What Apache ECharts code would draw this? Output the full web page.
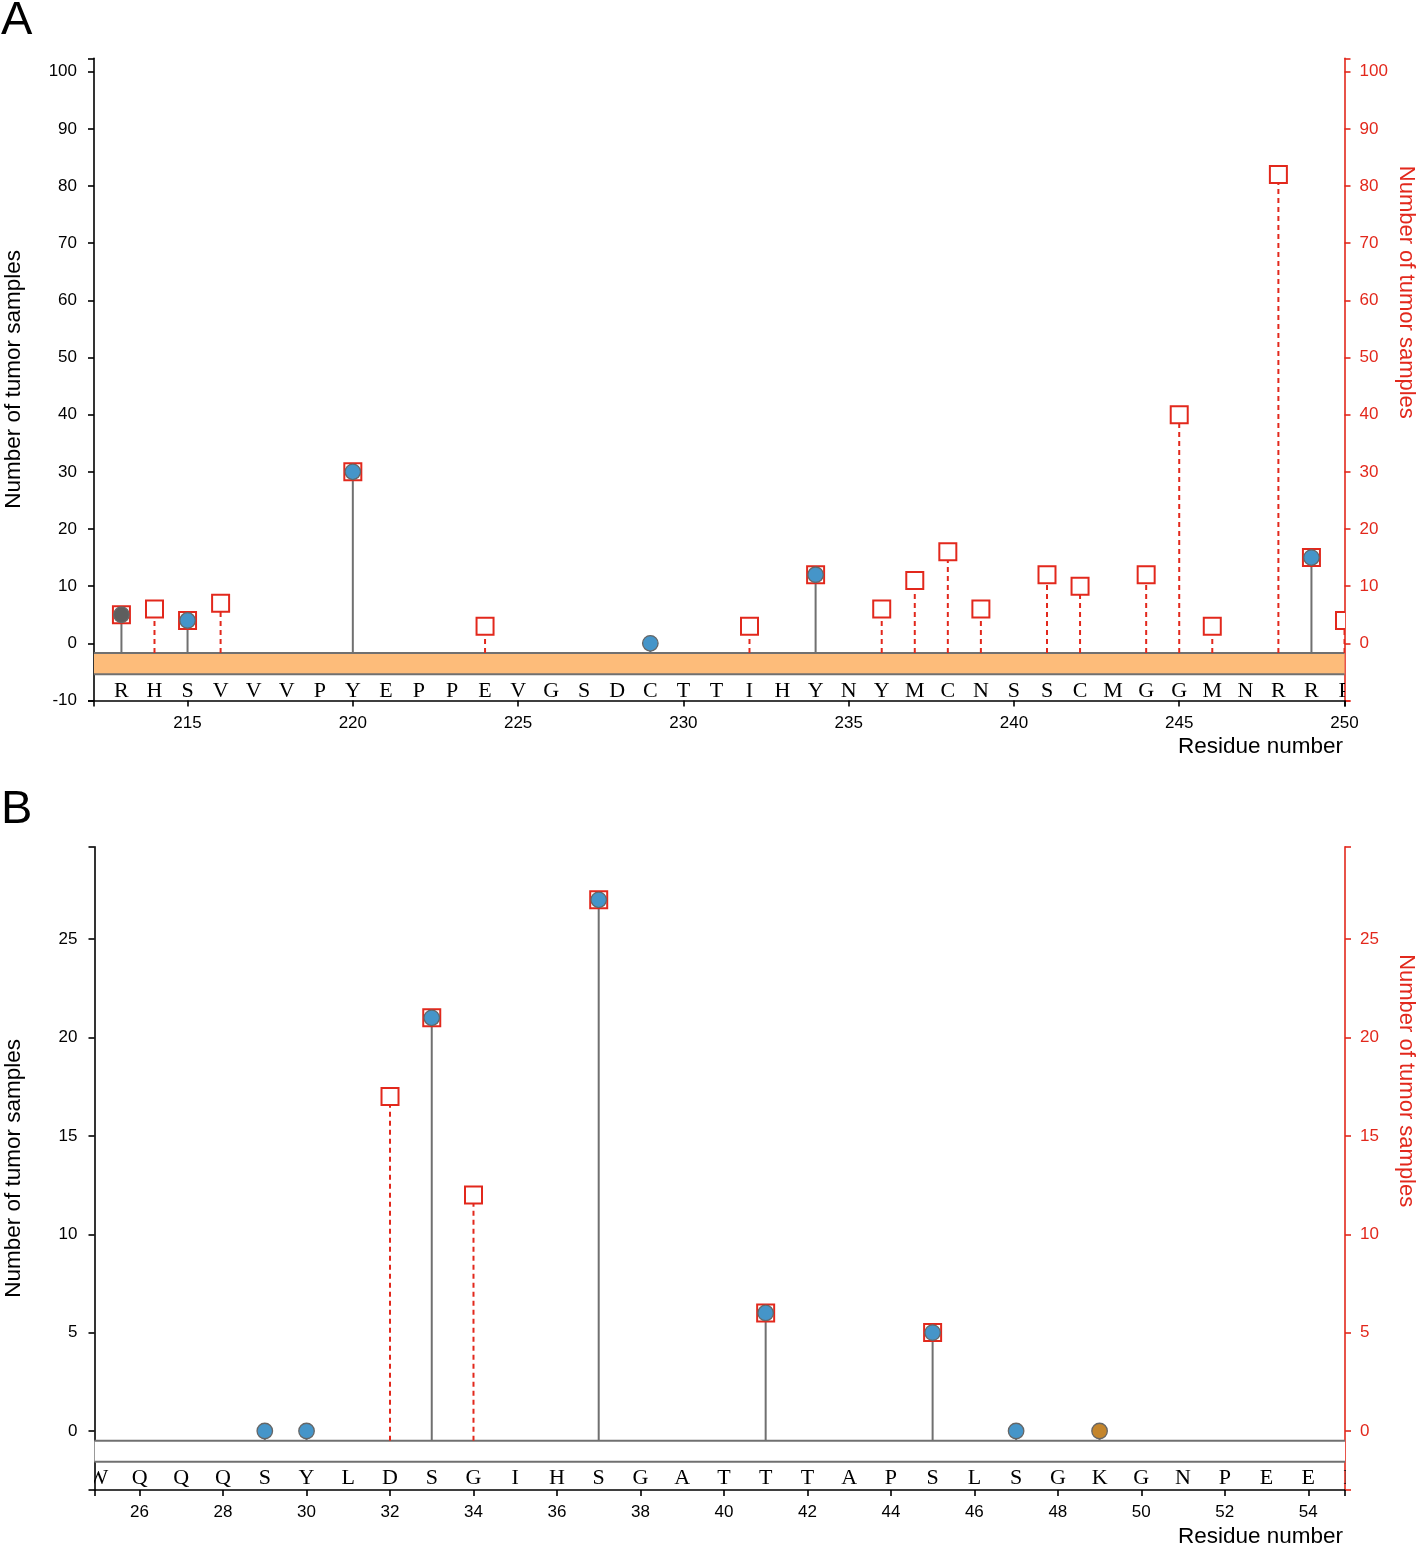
<!DOCTYPE html>
<html><head><meta charset="utf-8">
<script src="https://cdn.jsdelivr.net/npm/echarts@6/dist/echarts.min.js"></script>
<style>html,body{margin:0;padding:0;background:#fff}#c{width:1418px;height:1545px}</style>
</head><body><div id="c"></div>
<script>
// ---------- Panel A data ----------
const seqStartA = 213;
const seqA = ['R','H','S','V','V','V','P','Y','E','P','P','E','V','G','S','D','C','T','T','I','H','Y','N','Y','M','C','N','S','S','C','M','G','G','M','N','R','R','P'];
const circleResA = [213, 215, 220, 229, 234, 249];
const circleValA = [5, 4, 30, 0, 12, 15];
const circleTypeA = ['gray', 'blue', 'blue', 'blue', 'blue', 'blue'];
const squareResA = [213, 214, 215, 216, 220, 224, 232, 234, 236, 237, 238, 239, 241, 242, 244, 245, 246, 248, 249, 250];
const squareValA = [5, 6, 4, 7, 30, 3, 3, 12, 6, 11, 16, 6, 12, 10, 12, 40, 3, 82, 15, 4];
const xTicksA = [215, 220, 225, 230, 235, 240, 245, 250];
const yTicksA = [-10, 0, 10, 20, 30, 40, 50, 60, 70, 80, 90, 100];

// ---------- Panel B data ----------
const seqStartB = 25;
const seqB = ['W','Q','Q','Q','S','Y','L','D','S','G','I','H','S','G','A','T','T','T','A','P','S','L','S','G','K','G','N','P','E','E','L'];
const circleResB = [29, 30, 33, 37, 41, 45, 47, 49];
const circleValB = [0, 0, 21, 27, 6, 5, 0, 0];
const circleTypeB = ['blue', 'blue', 'blue', 'blue', 'blue', 'blue', 'blue', 'orange'];
const squareResB = [32, 33, 34, 37, 41, 45];
const squareValB = [17, 21, 12, 27, 6, 5];
const xTicksB = [26, 28, 30, 32, 34, 36, 38, 40, 42, 44, 46, 48, 50, 52, 54];
const yTicksB = [0, 5, 10, 15, 20, 25];

// ---------- styling ----------
const FONT = '"Liberation Sans", Arial, Helvetica, sans-serif';
const SERIF = '"Liberation Serif", "Times New Roman", serif';
const RED = '#e2281c';
const STEM = '#707070';
const circleColors = {gray: '#5e5e5e', blue: '#4595c9', orange: '#c4852c'};

const panels = [
  {grid: {left: 94, top: 58.3, width: 1250.5, height: 642.2}, xDom: [212.17, 250], yDom: [-10, 102.34],
   xTicks: xTicksA, yTicks: yTicksA, seq: seqA, seqStart: seqStartA, band: '#fdbc7a',
   cRes: circleResA, cVal: circleValA, cType: circleTypeA, sRes: squareResA, sVal: squareValA},
  {grid: {left: 94.5, top: 846.7, width: 1250.5, height: 643.3}, xDom: [24.92, 54.88], yDom: [-3, 29.7],
   xTicks: xTicksB, yTicks: yTicksB, seq: seqB, seqStart: seqStartB, band: '#ffffff',
   cRes: circleResB, cVal: circleValB, cType: circleTypeB, sRes: squareResB, sVal: squareValB}
];

const BAND_TOP = 9.7, BAND_BOT = 30.8, LETTER_Y = 47.5, SQ = 17;

const option = {animation: false, backgroundColor: '#fff', grid: [], xAxis: [], yAxis: [], series: [], graphic: []};

panels.forEach((p, i) => {
  option.grid.push(p.grid);
  option.xAxis.push({
    type: 'value', gridIndex: i, min: p.xDom[0], max: p.xDom[1],
    axisLine: {show: true, onZero: false, lineStyle: {color: '#000', width: 1.6}},
    axisTick: {show: true, length: 6, customValues: [p.xDom[0]].concat(p.xTicks, [p.xDom[1]]), lineStyle: {color: '#000', width: 1.6}},
    axisLabel: {customValues: p.xTicks, fontSize: 17, color: '#000', margin: 14, fontFamily: FONT},
    splitLine: {show: false}
  });
  const yl = {
    type: 'value', gridIndex: i, min: p.yDom[0], max: p.yDom[1], position: 'left',
    axisLine: {show: true, onZero: false, lineStyle: {color: '#000', width: 1.6}},
    axisTick: {show: true, length: 6, customValues: [p.yDom[0]].concat(p.yTicks, [p.yDom[1]]), lineStyle: {color: '#000', width: 1.6}},
    axisLabel: {customValues: p.yTicks, fontSize: 17, color: '#000', margin: 17, fontFamily: FONT},
    splitLine: {show: false}
  };
  const yr = JSON.parse(JSON.stringify(yl));
  yr.position = 'right';
  yr.axisLine.lineStyle.color = RED;
  yr.axisTick.lineStyle.color = RED;
  yr.axisLabel.color = RED;
  yr.axisLabel.margin = 15;
  yr.axisLabel.customValues = p.yTicks.filter(v => v >= 0);
  option.yAxis.push(yl, yr);
  const yL = i * 2, yR = i * 2 + 1;

  // track band
  option.series.push({
    type: 'custom', xAxisIndex: i, yAxisIndex: yL, z: 1, silent: true,
    data: [[p.xDom[0], 0]],
    renderItem: (params, api) => {
      const cs = params.coordSys;
      const z0 = api.coord([p.xDom[0], 0])[1];
      return {type: 'group', children: [
        {type: 'rect', shape: {x: cs.x, y: z0 + BAND_TOP, width: cs.width, height: BAND_BOT - BAND_TOP}, style: {fill: p.band}},
        {type: 'line', shape: {x1: cs.x, y1: z0 + BAND_TOP, x2: cs.x + cs.width, y2: z0 + BAND_TOP}, style: {stroke: '#707070', lineWidth: 2}},
        {type: 'line', shape: {x1: cs.x, y1: z0 + BAND_BOT, x2: cs.x + cs.width, y2: z0 + BAND_BOT}, style: {stroke: '#707070', lineWidth: 2}}
      ]};
    }
  });
  // sequence letters
  option.series.push({
    type: 'custom', xAxisIndex: i, yAxisIndex: yL, z: 1, clip: true, silent: true,
    data: p.seq.map((ch, k) => [p.seqStart + k, 0]),
    renderItem: (params, api) => {
      const c = api.coord([api.value(0), 0]);
      return {type: 'text', x: c[0], y: c[1] + LETTER_Y,
        style: {text: p.seq[params.dataIndex], font: '22px ' + SERIF, fill: '#000', textAlign: 'center', textVerticalAlign: 'middle'}};
    }
  });
  // red dashed stems (hidden behind a solid stem where a circle exists)
  option.series.push({
    type: 'custom', xAxisIndex: i, yAxisIndex: yR, z: 2, clip: true, silent: true,
    data: p.sRes.map((r, k) => [r, p.sVal[k]]).filter(d => p.cRes.indexOf(d[0]) < 0),
    renderItem: (params, api) => {
      const c = api.coord([api.value(0), api.value(1)]);
      const z0 = api.coord([api.value(0), 0])[1];
      return {type: 'line', shape: {x1: c[0], y1: z0 + BAND_TOP, x2: c[0], y2: c[1] + SQ / 2},
        style: {stroke: RED, lineWidth: 2, lineDash: [5, 4]}};
    }
  });
  // gray stems
  option.series.push({
    type: 'custom', xAxisIndex: i, yAxisIndex: yL, z: 3, clip: true, silent: true,
    data: p.cRes.map((r, k) => [r, p.cVal[k]]),
    renderItem: (params, api) => {
      const c = api.coord([api.value(0), api.value(1)]);
      const z0 = api.coord([api.value(0), 0])[1];
      return {type: 'line', shape: {x1: c[0], y1: z0 + BAND_TOP, x2: c[0], y2: c[1]},
        style: {stroke: STEM, lineWidth: 2}};
    }
  });
  // squares
  option.series.push({
    type: 'custom', xAxisIndex: i, yAxisIndex: yR, z: 4, clip: true, silent: true,
    data: p.sRes.map((r, k) => [r, p.sVal[k]]),
    renderItem: (params, api) => {
      const c = api.coord([api.value(0), api.value(1)]);
      return {type: 'rect', shape: {x: c[0] - SQ / 2, y: c[1] - SQ / 2, width: SQ, height: SQ},
        style: {fill: '#fff', stroke: RED, lineWidth: 2}};
    }
  });
  // circles
  option.series.push({
    type: 'scatter', xAxisIndex: i, yAxisIndex: yL, z: 5, symbol: 'circle', symbolSize: 15.5,
    data: p.cRes.map((r, k) => ({value: [r, p.cVal[k]], itemStyle: {color: circleColors[p.cType[k]]}})),
    itemStyle: {borderColor: '#666', borderWidth: 1.3, opacity: 1}
  });

  const top = p.grid.top, bottom = p.grid.top + p.grid.height;
  option.graphic.push(
    {type: 'text', x: 14, y: (top + bottom) / 2, rotation: Math.PI / 2,
     style: {text: 'Number of tumor samples', font: '22.5px ' + FONT, fill: '#000', textAlign: 'center', textVerticalAlign: 'middle'}},
    {type: 'text', x: 1406, y: top + 234, rotation: -Math.PI / 2,
     style: {text: 'Number of tumor samples', font: '22px ' + FONT, fill: RED, textAlign: 'center', textVerticalAlign: 'middle'}},
    {type: 'text', x: 1343, y: bottom + 46.5,
     style: {text: 'Residue number', font: '22.5px ' + FONT, fill: '#000', textAlign: 'right', textVerticalAlign: 'middle'}},
    {type: 'text', x: 1, y: top - 37,
     style: {text: i === 0 ? 'A' : 'B', font: '47px ' + FONT, fill: '#000', textAlign: 'left', textVerticalAlign: 'middle'}}
  );
});

const chart = echarts.init(document.getElementById('c'), null, {renderer: 'canvas'});
chart.setOption(option);
</script>
</body></html>
